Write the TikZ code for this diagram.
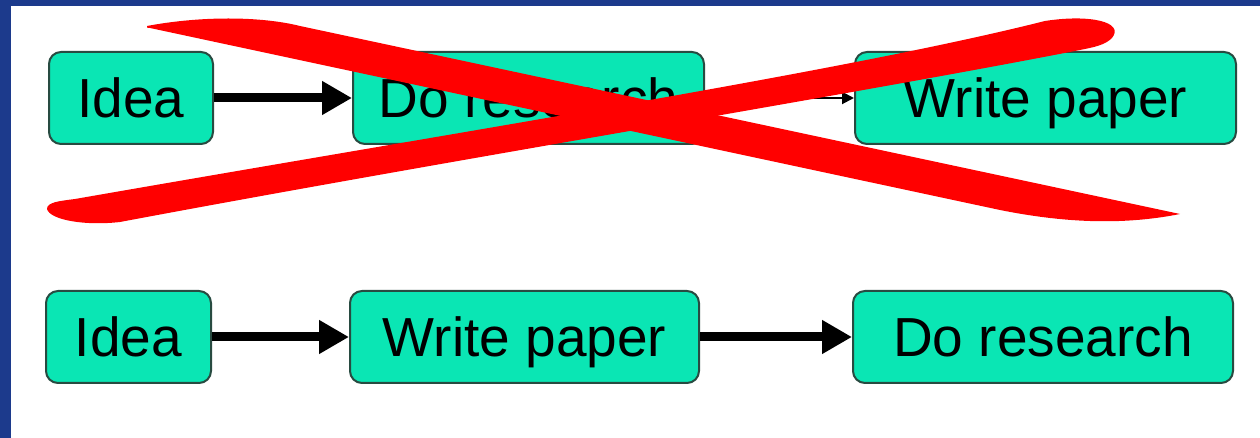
\documentclass[tikz,border=0pt]{standalone}
\usepackage{fontspec}
\setmainfont{Liberation Sans}
\usetikzlibrary{arrows.meta}
\definecolor{bgblue}{RGB}{28,58,140}
\definecolor{boxfill}{RGB}{10,230,180}
\definecolor{boxline}{RGB}{40,75,65}
\definecolor{xred}{RGB}{255,0,0}
\begin{document}
\begin{tikzpicture}[x=0.5pt,y=-0.5pt,
  proc/.style={draw=boxline, line width=1pt, fill=boxfill, rounded corners=6pt,
    inner sep=0pt, minimum height=46pt, text height=19.7pt, text depth=0pt,
    font=\fontsize{27.5}{33}\selectfont},
  bigarrow/.style={line width=4.5pt, -{Triangle[length=15pt,width=16pt]}},
  thinarrow/.style={line width=1pt, -{Triangle[length=6pt,width=6pt]}},
  xstroke/.style={fill=xred, draw=none}]
\useasboundingbox (0,0) rectangle (1260,438);
\fill[bgblue] (0,0) rectangle (1260,438);
\fill[white] (11,6) rectangle (1260,438);
% top row
\node[proc, minimum width=82pt] (i1) at (131,98) {Idea};
\node[proc, minimum width=175.5pt] (d1) at (528.5,98) {Do research};
\node[proc, minimum width=190.5pt] (w1) at (1045.5,98) {Write paper};
% bottom row
\node[proc, minimum width=82.5pt] (i2) at (128.5,337) {Idea};
\node[proc, minimum width=174.5pt] (w2) at (524.5,337) {Write paper};
\node[proc, minimum width=190pt] (d2) at (1043,337) {Do research};
% arrows
\draw[bigarrow] (i1) -- (d1);
\draw[thinarrow] (d1) -- (w1);
\draw[bigarrow] (i2) -- (w2);
\draw[bigarrow] (w2) -- (d2);
% red cross
\fill[xstroke] (147,26) .. controls (200,16) and (260,16) .. (300,26)
  -- (1180,214) .. controls (1120,226) and (1060,222) .. (1000,210)
  -- (150,28) .. controls (147,28) .. cycle;
\fill[xstroke] (47,209) .. controls (47,202) and (60,201) .. (75,199)
  .. controls (500,125) and (850,70) .. (1045,21)
  .. controls (1090,14) and (1125,22) .. (1112,38)
  .. controls (1105,45) and (1095,47) .. (1080,50)
  .. controls (850,95) and (450,160) .. (120,222)
  .. controls (85,226) and (50,220) .. (47,209) -- cycle;
\end{tikzpicture}
\end{document}
